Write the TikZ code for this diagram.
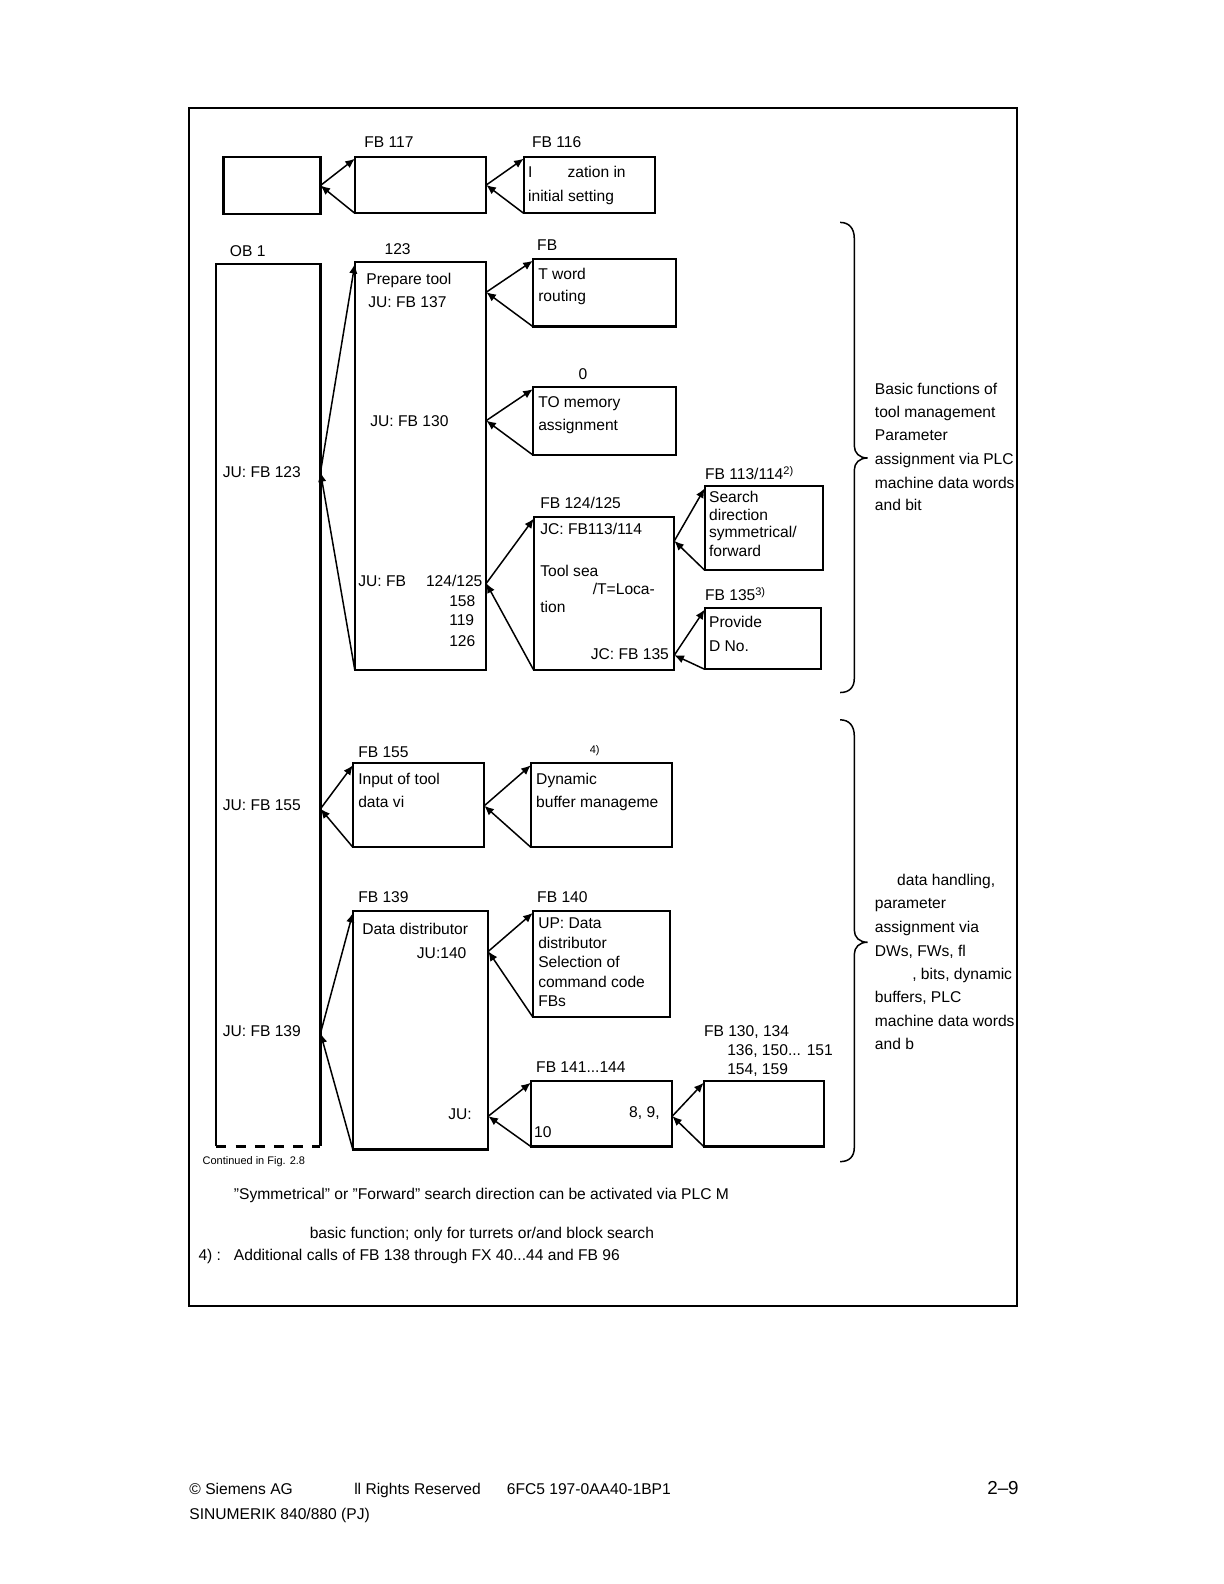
\documentclass[tikz,border=0pt]{standalone}
\usepackage{fontspec}
\setmainfont{Liberation Sans}
\usetikzlibrary{arrows.meta}
\newcommand\fs{\fontsize{7.8}{9}\selectfont}
\newcommand\fss{\fontsize{5.5}{6}\selectfont}
\newcommand\sups[1]{\raisebox{2.6pt}{\fss #1}}
\newcommand\bx[5]{\node[box,minimum width={(#4-#2)*0.5055pt},minimum height={(#5-#3)*0.5055pt}] (#1) at ({(#2+#4)/2},{(#3+#5)/2}) {};}
\newcommand\tx[4]{\node[txt] (#1) at (#2,{#3+5}) {#4};}
\begin{document}
\begin{tikzpicture}[x=0.5055pt,y=-0.5055pt,
  box/.style={draw,line width=1.1pt,inner sep=0pt,outer sep=0pt},
  txt/.style={anchor=base west,inner sep=0pt,font=\fs},
  arr/.style={line width=0.75pt,-{Latex[length=4.8pt,width=4.2pt]}},
  brace/.style={line width=0.75pt},
  frame/.style={draw,line width=0.8pt}]
\useasboundingbox (0,0) rectangle (1210.68,1566.77);
% outer frame
\draw[frame] (187,107) rectangle (1006,1292);

% ---------- boxes ----------
\bx{b1}{221}{155}{317}{212}
\bx{b117}{351}{155}{481}{211}
\bx{b116}{518}{155}{648}{211}
\node[inner sep=0pt,outer sep=0pt,minimum width={(317-214)*0.5055pt},minimum height={(1134-261)*0.5055pt}] (ob1) at ({(214+317)/2},{(261+1134)/2}) {};
\draw[line width=1.1pt] (ob1.south west) -- (ob1.north west) -- (ob1.north east) -- (ob1.south east);
\draw[line width=1.1pt,dash pattern=on 5pt off 4.6pt] (ob1.south west) -- (ob1.south east);
\bx{b123}{351}{259}{481}{663}
\bx{tword}{527}{256}{669}{323}
\bx{tomem}{527}{383}{669}{450}
\bx{b124}{528}{511}{667}{663}
\bx{b113}{697}{481}{814}{564}
\bx{b135}{697}{601}{812}{662}
\bx{b155}{349}{755}{479}{838}
\bx{dyn}{525}{755}{665}{838}
\bx{b139}{349}{901}{483}{1137}
\bx{b140}{527}{901}{663}{1006}
\bx{b141}{525}{1069}{665}{1134}
\bx{blast}{696}{1069}{815}{1134}

% ---------- junctions ----------
\coordinate (j123) at (317,467);
\coordinate (jtw) at (481,289);
\coordinate (jto) at (481,416);
\coordinate (j124) at (481,577);
\coordinate (j113) at (667,535);
\coordinate (j135) at (667,648);
\coordinate (j155) at (317,800);
\coordinate (jdyn) at (479,797);
\coordinate (j139) at (317,1022);
\coordinate (j140) at (483,941);
\coordinate (j141) at (483,1104);
\coordinate (jlast) at (665,1104);

% ---------- arrows ----------
\draw[arr] (b1.east) -- ([yshift=-1pt]b117.north west);
\draw[arr] (b117.south west) -- (b1.east);
\draw[arr] (b117.east) -- ([yshift=-1pt]b116.north west);
\draw[arr] (b116.south west) -- (b117.east);
\draw[arr] (j123) -- ([yshift=-1pt]b123.north west);
\draw[arr] (b123.south west) -- (j123);
\draw[arr] (jtw) -- ([yshift=-1pt]tword.north west);
\draw[arr] (tword.south west) -- (jtw);
\draw[arr] (jto) -- ([yshift=-1pt]tomem.north west);
\draw[arr] (tomem.south west) -- (jto);
\draw[arr] (j124) -- ([yshift=-1pt]b124.north west);
\draw[arr] (b124.south west) -- (j124);
\draw[arr] (j113) -- ([yshift=-1pt]b113.north west);
\draw[arr] (b113.south west) -- (j113);
\draw[arr] (j135) -- ([yshift=-1pt]b135.north west);
\draw[arr] (b135.south west) -- (j135);
\draw[arr] (j155) -- ([yshift=-1pt]b155.north west);
\draw[arr] (b155.south west) -- (j155);
\draw[arr] (jdyn) -- ([yshift=-1pt]dyn.north west);
\draw[arr] (dyn.south west) -- (jdyn);
\draw[arr] (j139) -- ([yshift=-1pt]b139.north west);
\draw[arr] (b139.south west) -- (j139);
\draw[arr] (j140) -- ([yshift=-1pt]b140.north west);
\draw[arr] (b140.south west) -- (j140);
\draw[arr] (j141) -- ([yshift=-1pt]b141.north west);
\draw[arr] (b141.south west) -- (j141);
\draw[arr] (jlast) -- ([yshift=-1pt]blast.north west);
\draw[arr] (blast.south west) -- (jlast);

% ---------- braces ----------
\draw[brace] (831,220) .. controls (840,220) and (845,226) .. (845,236) -- (845,441)
  .. controls (845,448) and (850,453) .. (858,453)
  .. controls (850,453) and (845,458) .. (845,465) -- (845,671)
  .. controls (845,680) and (840,685) .. (831,685);
\draw[brace] (831,712) .. controls (840,712) and (845,718) .. (845,728) -- (845,920)
  .. controls (845,927) and (850,932) .. (858,932)
  .. controls (850,932) and (845,937) .. (845,944) -- (845,1135)
  .. controls (845,1144) and (840,1149) .. (831,1149);

% ---------- texts: top ----------
\tx{l117}{360}{141}{FB 117}
\tx{l116}{526}{141}{FB 116}
\tx{t116a}{522}{171}{I}
\tx{t116b}{561}{171}{zation in}
\tx{t116c}{522}{194}{initial setting}
\tx{lob1}{227}{249}{OB 1}
\tx{l123}{380}{247}{123}
\tx{ltw}{531}{243}{FB}
\tx{t123a}{362}{276}{Prepare tool}
\tx{t123b}{364}{299}{JU: FB 137}
\tx{ttwa}{532}{271}{T word}
\tx{ttwb}{532}{293}{routing}
\tx{lto}{572}{370}{0}
\tx{ttoa}{532}{398}{TO memory}
\tx{ttob}{532}{421}{assignment}
\tx{t123c}{366}{417}{JU: FB 130}
\tx{tob1a}{220}{467}{JU: FB 123}
\tx{l113}{697}{469}{FB 113/114\sups{2)}}
\tx{l124}{534}{498}{FB 124/125}
\tx{t113a}{701}{492}{Search}
\tx{t113b}{701}{510}{direction}
\tx{t113c}{701}{527}{symmetrical/}
\tx{t113d}{701}{545}{forward}
\tx{t124a}{534}{524}{JC: FB113/114}
\tx{t124b}{534}{565}{Tool sea}
\tx{t124c}{586}{583}{/T=Loca-}
\tx{t124d}{534}{601}{tion}
\tx{t124e}{584}{647}{JC: FB 135}
\tx{t123d}{354}{575}{JU: FB}
\tx{t123e}{421}{575}{124/125}
\tx{t123f}{444}{595}{158}
\tx{t123g}{444}{614}{119}
\tx{t123h}{444}{634}{126}
\tx{l135}{697}{589}{FB 135\sups{3)}}
\tx{t135a}{701}{616}{Provide}
\tx{t135b}{701}{639}{D No.}
% brace 1 text
\tx{br1a}{865}{385}{Basic functions of}
\tx{br1b}{865}{408}{tool management}
\tx{br1c}{865}{431}{Parameter}
\tx{br1d}{865}{454}{assignment via PLC}
\tx{br1e}{865}{478}{machine data words}
\tx{br1f}{865}{500}{and bit}

% ---------- texts: middle ----------
\tx{l155}{354}{744}{FB 155}
\node[txt,font=\fss] (ldyn) at (583,745) {4)};
\tx{t155a}{354}{771}{Input of tool}
\tx{t155b}{354}{794}{data vi}
\tx{tdyna}{530}{771}{Dynamic}
\tx{tdynb}{530}{794}{buffer manageme}
\tx{tob1b}{220}{797}{JU: FB 155}
\tx{l139}{354}{888}{FB 139}
\tx{l140}{531}{888}{FB 140}
\tx{t139a}{358}{919}{Data distributor}
\tx{t139b}{412}{943}{JU:140}
\tx{t140a}{532}{913}{UP: Data}
\tx{t140b}{532}{933}{distributor}
\tx{t140c}{532}{952}{Selection of}
\tx{t140d}{532}{972}{command code}
\tx{t140e}{532}{991}{FBs}
\tx{tob1c}{220}{1020}{JU: FB 139}
\tx{llasta}{696}{1020}{FB 130, 134}
\tx{llastb}{719}{1039}{136, 150... 151}
\tx{llastc}{719}{1058}{154, 159}
\tx{l141}{530}{1056}{FB 141...144}
\tx{t139c}{443}{1102}{JU:}
\tx{t141a}{622}{1100}{8, 9,}
\tx{t141b}{528}{1120}{10}
% brace 2 text
\tx{br2a}{887}{871}{data handling,}
\tx{br2b}{865}{894}{parameter}
\tx{br2c}{865}{917}{assignment via}
\tx{br2d}{865}{941}{DWs, FWs, fl}
\tx{br2e}{902}{964}{, bits, dynamic}
\tx{br2f}{865}{987}{buffers, PLC}
\tx{br2g}{865}{1010}{machine data words}
\tx{br2h}{865}{1033}{and b}

% ---------- bottom notes ----------
\node[txt,font=\fss] (cont) at (200,1152) {Continued in Fig. 2.8};
\tx{fn1}{231}{1181}{”Symmetrical” or ”Forward” search direction can be activated via PLC M}
\tx{fn2}{306}{1220}{basic function; only for turrets or/and block search}
\tx{fn3}{196}{1242}{\makebox[17.7pt][l]{4) :}Additional calls of FB 138 through FX 40...44 and FB 96}

% ---------- footer ----------
\tx{ft1}{187}{1473}{© Siemens AG}
\tx{ft2}{350}{1473}{ll Rights Reserved}
\tx{ft3}{501}{1473}{6FC5 197-0AA40-1BP1}
\node[anchor=base east,inner sep=0pt,font=\fontsize{9.4}{11}\selectfont] (ftpg) at (1008,1478) {2–9};
\tx{ft4}{187}{1498}{SINUMERIK 840/880 (PJ)}
\end{tikzpicture}
\end{document}
